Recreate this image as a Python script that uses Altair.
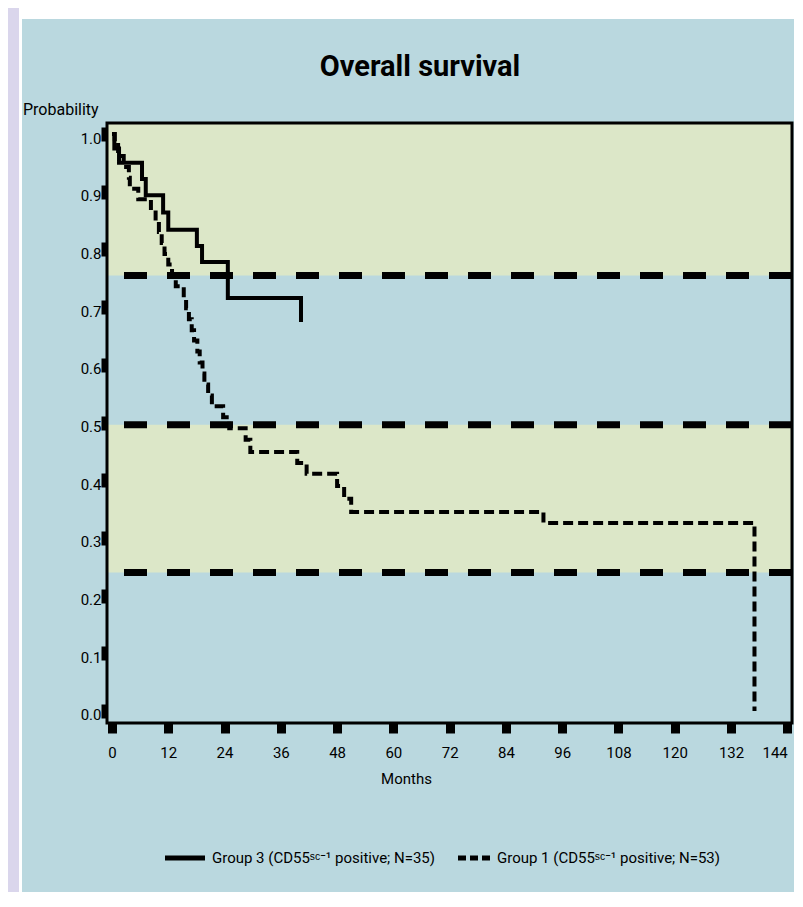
import altair as alt
import pandas as pd

# ---------------- data ----------------
g3_months = [0, 0.5, 1.5, 6.4, 7.2, 10.9, 12.0, 18.1, 19.2, 24.7, 40.3]
g3_surv = [1.0, 0.975, 0.950, 0.922, 0.894, 0.864, 0.834, 0.806, 0.778, 0.716, 0.674]

g1_months = [0, 0.6, 1.3, 2.5, 3.6, 3.8, 5.6, 8.3, 9.3, 10.0, 10.6, 11.2, 12.0, 12.8,
             13.6, 15.3, 15.8, 16.4, 17.0, 17.5, 18.2, 18.7, 19.3, 19.7, 20.5, 21.3,
             23.7, 25.0, 28.5, 29.5, 39.5, 41.5, 48.0, 49.5, 51.0, 92.0, 137.0]
g1_surv = [1.0, 0.981, 0.962, 0.943, 0.924, 0.905, 0.887, 0.868, 0.849, 0.830, 0.811,
           0.792, 0.774, 0.755, 0.736, 0.717, 0.698, 0.679, 0.660, 0.642, 0.623, 0.604,
           0.585, 0.566, 0.547, 0.528, 0.509, 0.490, 0.470, 0.449, 0.430, 0.411, 0.390,
           0.368, 0.345, 0.326, 0.0]

ref_levels = [0.755, 0.496, 0.24]
band_low = [0.755, 0.24]
band_high = [1.0191, 0.496]

x_ticks = [0, 12, 24, 36, 48, 60, 72, 84, 96, 108, 120, 132, 144]
y_ticks = [0.0, 0.1, 0.2, 0.3, 0.4, 0.5, 0.6, 0.7, 0.8, 0.9, 1.0]

title_text = "Overall survival"
y_title = "Probability"
x_title = "Months"
legend_g3 = "Group 3 (CD55ˢᶜ⁻¹ positive; N=35)"
legend_g1 = "Group 1 (CD55ˢᶜ⁻¹ positive; N=53)"

# ---------------- styling ----------------
X_MIN, X_MAX = -1.066, 145.0
Y_MIN, Y_MAX = -0.0208, 1.0191
W, H = 685, 600
FONT = "Roboto, Liberation Sans, sans-serif"
BLUE = "#bad8df"
GREEN = "#dce7c8"
LAV = "#dad6ec"

xs = alt.Scale(domain=[X_MIN, X_MAX], nice=False, zero=False)
ys = alt.Scale(domain=[Y_MIN, Y_MAX], nice=False, zero=False)

x_axis = alt.Axis(values=x_ticks, title=x_title, labelFont=FONT, labelFontSize=15,
                  labelColor="black", tickColor="black", tickSize=10, tickWidth=9,
                  labelPadding=12, domain=False, grid=False, titleFont=FONT,
                  titleFontSize=15, titleFontWeight="normal", titleColor="black",
                  titleX=299, titleY=55, titleBaseline="middle", titleAnchor="start",
                  titleAlign="center", zindex=1, labelFlush=False,
                  labelAlign=alt.ExprRef("datum.value == 144 ? 'right' : 'center'"))
y_axis = alt.Axis(values=y_ticks, format=".1f", title=None, labelFont=FONT,
                  labelFontSize=15, labelColor="black", tickColor="black", tickSize=6,
                  tickWidth=14, labelPadding=0, labelOffset=4, domain=False, grid=False,
                  zindex=1, labelFlush=False)

one = pd.DataFrame({"a": [0]})

def deco_rect(x, x2, y, y2, color):
    return alt.Chart(one).mark_rect(color=color, opacity=1).encode(
        x=alt.value(x), x2=alt.value(x2), y=alt.value(y), y2=alt.value(y2))

white_top = deco_rect(-99, 690, -115, -104, "white")
lav_col = deco_rect(-99, -88, -115, 780, LAV)
white_col = deco_rect(-88, -85, -104, 780, "white")

g3 = alt.Chart(pd.DataFrame({"m": g3_months, "s": g3_surv})).mark_line(
    color="black", strokeWidth=4, interpolate="step-after", strokeCap="butt").encode(
    x=alt.X("m:Q", scale=xs, axis=x_axis), y=alt.Y("s:Q", scale=ys, axis=y_axis),
    order="m:Q")

g1 = alt.Chart(pd.DataFrame({"m": g1_months, "s": g1_surv})).mark_line(
    color="black", strokeWidth=4, interpolate="step-after", strokeDash=[10, 5],
    strokeCap="butt").encode(
    x=alt.X("m:Q", scale=xs, axis=x_axis), y=alt.Y("s:Q", scale=ys, axis=y_axis),
    order="m:Q")

bands = alt.Chart(pd.DataFrame({"lo": band_low, "hi": band_high})).mark_rect(
    color=GREEN, opacity=1).encode(
    x=alt.value(0), x2=alt.value(W),
    y=alt.Y("lo:Q", scale=ys, axis=y_axis), y2="hi:Q")

refs = alt.Chart(pd.DataFrame({"lvl": ref_levels})).mark_rule(
    color="black", strokeWidth=7, strokeDash=[23, 20], strokeCap="butt").encode(
    y=alt.Y("lvl:Q", scale=ys, axis=y_axis))

frame = alt.Chart(one).mark_rect(filled=False, stroke="black", strokeWidth=3).encode(
    x=alt.value(0), x2=alt.value(W), y=alt.value(0), y2=alt.value(H))

def txt(x, y, text, size, weight="normal", align="left", baseline="alphabetic"):
    return alt.Chart(one).mark_text(font=FONT, fontSize=size, fontWeight=weight,
                                    align=align, baseline=baseline, color="black").encode(
        x=alt.value(x), y=alt.value(y), text=alt.value(text))

title = txt(313, -47, title_text, 29, weight="bold", align="center")
ytitle = txt(-84, -8, y_title, 16)

leg_solid = alt.Chart(one).mark_rule(color="black", strokeWidth=5, strokeCap="butt").encode(
    x=alt.value(58), x2=alt.value(98), y=alt.value(735))
leg_dash = alt.Chart(one).mark_rule(color="black", strokeWidth=5, strokeDash=[8, 4],
                                    strokeCap="butt").encode(
    x=alt.value(351), x2=alt.value(383), y=alt.value(735))
leg_t3 = txt(105, 735, legend_g3, 15, baseline="middle")
leg_t1 = txt(390, 735, legend_g1, 15, baseline="middle")

chart = alt.layer(
    white_top, lav_col, white_col, bands, refs, g3, g1, frame,
    title, ytitle, leg_solid, leg_dash, leg_t3, leg_t1
).properties(
    width=W, height=H, background=BLUE,
    padding={"left": 99, "top": 115, "right": 2, "bottom": 169},
    autosize=alt.AutoSizeParams(type="none"),
).configure_view(stroke=None)

chart.save("out.html", embed_options={"renderer": "svg", "actions": False})
